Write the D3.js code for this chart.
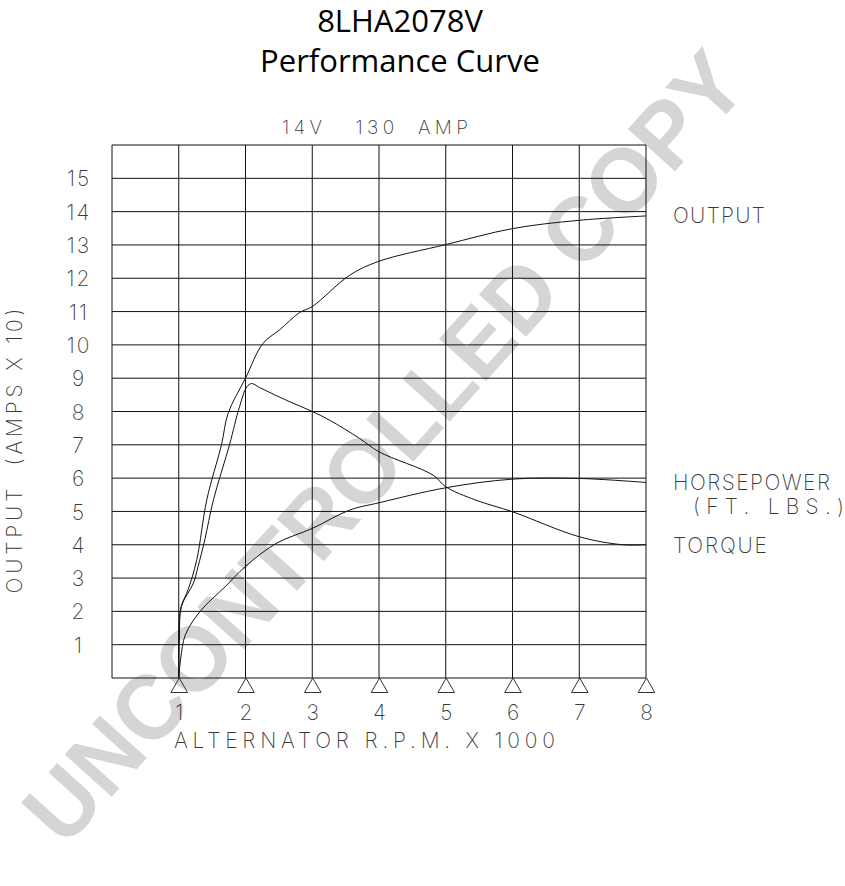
<!DOCTYPE html>
<html>
<head>
<meta charset="utf-8">
<script src="https://cdn.jsdelivr.net/npm/d3@7"></script>
<style>
  html, body { margin: 0; padding: 0; background: #fff; }
  svg { display: block; }
  .cad { font-family: "Inter", "DejaVu Sans", sans-serif; font-weight: 200; fill: #3a3a3a; white-space: pre; }
</style>
</head>
<body>
<svg id="chart" width="845" height="886"></svg>
<script>
// ---- data (rpm x 1000, value in chart units) ----
const titleLines = ["8LHA2078V", "Performance Curve"];
const subtitle = "14V   130  AMP";
const xTicks = [1, 2, 3, 4, 5, 6, 7, 8];
const yTicks = [1, 2, 3, 4, 5, 6, 7, 8, 9, 10, 11, 12, 13, 14, 15];
const seriesNames = ["OUTPUT", "HORSEPOWER", "TORQUE"];

const outputCurve = [
  [1.0, 0], [1.0, 1.2], [1.03, 2.1], [1.14, 2.65], [1.27, 3.55], [1.42, 5.35],
  [1.64, 7.0], [1.74, 7.95], [2.0, 9.0], [2.26, 10.04], [2.51, 10.45],
  [2.81, 10.97], [3.0, 11.15], [3.56, 12.09], [4.0, 12.51], [5.0, 13.01],
  [6.0, 13.49], [7.0, 13.74], [8.0, 13.87]
];
const horsepowerCurve = [
  [1.0, 0], [1.03, 0.6], [1.1, 1.3], [1.32, 2.0], [1.7, 2.75], [2.0, 3.35],
  [2.46, 4.04], [3.0, 4.49], [3.56, 5.04], [4.0, 5.26], [5.0, 5.71],
  [6.0, 5.97], [7.0, 5.99], [8.0, 5.87]
];
const torqueCurve = [
  [1.0, 0], [1.01, 1.2], [1.04, 2.15], [1.22, 2.85], [1.29, 3.35], [1.39, 4.15],
  [1.52, 5.35], [1.76, 7.0], [1.91, 8.14], [2.02, 8.74], [2.09, 8.84],
  [2.21, 8.72], [2.61, 8.34], [3.0, 8.0], [3.26, 7.74], [3.71, 7.19],
  [4.0, 6.79], [4.81, 6.09], [5.0, 5.74], [5.45, 5.34], [6.0, 4.99],
  [7.0, 4.24], [7.65, 4.0], [8.0, 4.0]
];

// ---- layout ----
const svg = d3.select("#chart");
const x = d3.scaleLinear().domain([0, 8]).range([112, 646]);
const y = d3.scaleLinear().domain([0, 16]).range([678, 145]);

// watermark (behind everything)
svg.append("text")
  .attr("transform", "translate(383,446) rotate(-48)")
  .attr("text-anchor", "middle")
  .attr("dy", "0.36em")
  .attr("font-family", "Liberation Sans, Arial, sans-serif")
  .attr("font-weight", "bold")
  .attr("font-size", 92)
  .attr("fill", "#d5d5d5")
  .attr("textLength", 1025)
  .attr("lengthAdjust", "spacingAndGlyphs")
  .text("UNCONTROLLED COPY");

// titles
svg.append("text")
  .attr("x", 400).attr("y", 32)
  .attr("text-anchor", "middle")
  .attr("font-family", "Open Sans, Noto Sans, sans-serif")
  .attr("font-size", 31).attr("fill", "#000")
  .text(titleLines[0]);
svg.append("text")
  .attr("x", 400).attr("y", 72)
  .attr("text-anchor", "middle")
  .attr("font-family", "Open Sans, Noto Sans, sans-serif")
  .attr("font-size", 31).attr("fill", "#000")
  .text(titleLines[1]);

svg.append("text").attr("class", "cad")
  .attr("x", 282).attr("y", 134)
  .attr("font-size", 19)
  .attr("textLength", 186).attr("lengthAdjust", "spacing")
  .text(subtitle);

// grid
const grid = svg.append("g").attr("stroke", "#111").attr("stroke-width", 1).attr("fill", "none");
grid.selectAll("line.v").data(d3.range(0, 9)).join("line")
  .attr("x1", d => x(d)).attr("x2", d => x(d))
  .attr("y1", y(16)).attr("y2", y(0));
grid.selectAll("line.h").data(d3.range(0, 17)).join("line")
  .attr("x1", x(0)).attr("x2", x(8))
  .attr("y1", d => y(d)).attr("y2", d => y(d));

// y axis labels via d3 axis
const yAxis = svg.append("g")
  .attr("transform", `translate(${x(0)},0)`)
  .call(d3.axisLeft(y).tickValues(yTicks).tickSize(0).tickPadding(0));
yAxis.select(".domain").remove();
yAxis.selectAll("text")
  .attr("class", "cad")
  .attr("x", -33)
  .attr("text-anchor", "middle")
  .attr("dy", "0.36em")
  .attr("font-size", 21)
  .attr("letter-spacing", 2)
  .style("font-family", null);

// x axis labels and triangles
const xAxis = svg.append("g")
  .attr("transform", `translate(0,${y(0)})`)
  .call(d3.axisBottom(x).tickValues(xTicks).tickSize(0).tickPadding(0));
xAxis.select(".domain").remove();
xAxis.selectAll("text")
  .attr("class", "cad")
  .attr("y", 34)
  .attr("dy", "0.36em")
  .attr("font-size", 21)
  .style("font-family", null);
xAxis.selectAll(".tick").append("path")
  .attr("d", "M0,0 L-8.3,14.5 L8.3,14.5 Z")
  .attr("fill", "none")
  .attr("stroke", "#333")
  .attr("stroke-width", 1);

// axis titles
svg.append("text").attr("class", "cad")
  .attr("x", 174).attr("y", 748)
  .attr("font-size", 21)
  .attr("textLength", 381).attr("lengthAdjust", "spacing")
  .text("ALTERNATOR R.P.M. X 1000");

svg.append("text").attr("class", "cad")
  .attr("transform", "translate(22,451) rotate(-90)")
  .attr("text-anchor", "middle")
  .attr("font-size", 21)
  .attr("textLength", 285).attr("lengthAdjust", "spacing")
  .text("OUTPUT  (AMPS X 10)");

// curves
const line = d3.line()
  .x(d => x(d[0])).y(d => y(d[1]))
  .curve(d3.curveCatmullRom.alpha(0.5));
const curves = [outputCurve, horsepowerCurve, torqueCurve];
svg.append("g").selectAll("path").data(curves).join("path")
  .attr("d", line)
  .attr("fill", "none")
  .attr("stroke", "#111")
  .attr("stroke-width", 1);

// right-side labels
const rightLabels = [
  { t: seriesNames[0], x: 673, y: 223, w: 92 },
  { t: seriesNames[1], x: 673, y: 490, w: 157 },
  { t: "(FT. LBS.)", x: 693, y: 514, w: 151 },
  { t: seriesNames[2], x: 673, y: 553, w: 94 }
];
svg.append("g").selectAll("text").data(rightLabels).join("text")
  .attr("class", "cad")
  .attr("x", d => d.x).attr("y", d => d.y)
  .attr("font-size", 21)
  .attr("textLength", d => d.w).attr("lengthAdjust", "spacing")
  .text(d => d.t);
</script>
</body>
</html>
